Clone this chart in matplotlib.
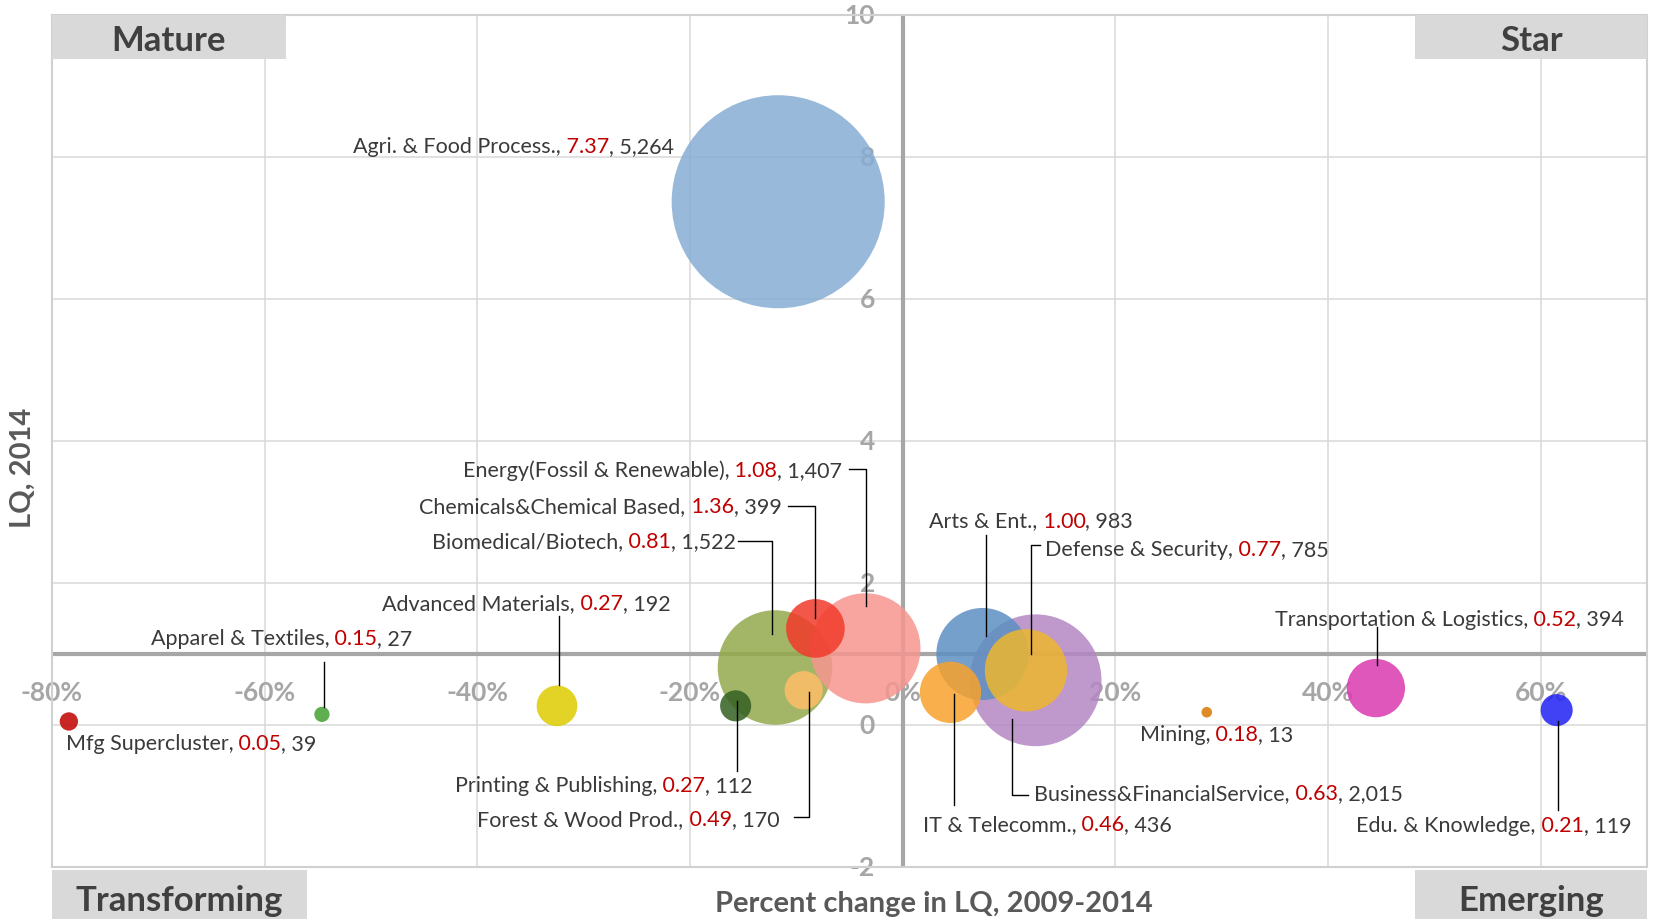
import matplotlib.pyplot as plt
from matplotlib.patches import Rectangle
from matplotlib.offsetbox import TextArea, HPacker, AnnotationBbox

plt.rcParams['font.family'] = ['Lato', 'DejaVu Sans']

# cluster data: % change in LQ 2009-2014, LQ 2014, employment
clusters = ['Agri. & Food Process.', 'Mfg Supercluster', 'Apparel & Textiles',
            'Advanced Materials', 'Biomedical/Biotech', 'Energy(Fossil & Renewable)',
            'Chemicals&Chemical Based', 'Forest & Wood Prod.', 'Printing & Publishing',
            'Business&FinancialService', 'Arts & Ent.', 'Defense & Security',
            'IT & Telecomm.', 'Mining', 'Transportation & Logistics', 'Edu. & Knowledge']
pct_change = [-11.7, -78.4, -54.6, -32.5, -12.0, -3.5, -8.2, -9.3, -15.7,
              12.5, 7.5, 11.6, 4.5, 28.6, 44.5, 61.5]
lq_2014 = [7.37, 0.05, 0.15, 0.27, 0.81, 1.08, 1.36, 0.49, 0.27,
           0.63, 1.00, 0.77, 0.46, 0.18, 0.52, 0.21]
employment = [5264, 39, 27, 192, 1522, 1407, 399, 170, 112,
              2015, 983, 785, 436, 13, 394, 119]
colors = ['#86ADD4', '#C00000', '#43A030', '#DDCC00', '#93AA4C', '#F79690',
          '#F23A2A', '#FFBE68', '#335F22', '#B487C4', '#5D90C2', '#EDB62E',
          '#F8A22C', '#D97700', '#DA3AB0', '#2020F5']

x_ticks = [-80, -60, -40, -20, 0, 20, 40, 60]
y_ticks = [-2, 0, 2, 4, 6, 8, 10]
quadrants = ['Mature', 'Star', 'Transforming', 'Emerging']

# label placement: text x, text y, alignment, leader line points
label_pos = [
    (-21.5, 8.15, 'right', None),
    (-78.7, -0.25, 'left', None),
    (-58.4, 1.23, 'center', [(-54.4, 0.89), (-54.4, 0.25)]),
    (-35.4, 1.72, 'center', [(-32.3, 1.53), (-32.3, 0.56)]),
    (-15.7, 2.59, 'right', [(-15.5, 2.59), (-12.3, 2.59), (-12.3, 1.28)]),
    (-5.7, 3.60, 'right', [(-5.0, 3.60), (-3.4, 3.60), (-3.4, 1.68)]),
    (-11.4, 3.09, 'right', [(-10.75, 3.09), (-8.2, 3.09), (-8.2, 1.51)]),
    (-11.6, -1.33, 'right', [(-10.25, -1.30), (-8.85, -1.30), (-8.85, 0.46)]),
    (-28.1, -0.85, 'center', [(-15.6, 0.34), (-15.6, -0.65)]),
    (12.4, -0.96, 'left', [(10.25, 0.08), (10.25, -0.98), (11.8, -0.98)]),
    (12.1, 2.88, 'center', [(7.8, 2.68), (7.8, 1.25)]),
    (13.4, 2.48, 'left', [(12.9, 2.54), (12.1, 2.54), (12.1, 1.0)]),
    (13.6, -1.40, 'center', [(4.8, 0.43), (4.8, -1.12)]),
    (29.5, -0.13, 'center', None),
    (51.4, 1.50, 'center', [(44.6, 1.38), (44.6, 0.84)]),
    (55.6, -1.41, 'center', [(61.6, 0.06), (61.6, -1.2)]),
]

fig = plt.figure(figsize=(16.56, 9.2), dpi=100)
ax = fig.add_axes([0.0313, 0.0565, 0.9633, 0.9261])
ax.set_xlim(-80, 70)
ax.set_ylim(-2, 10)

# grid
for xt in x_ticks:
    ax.axvline(xt, color='#D9D9D9', lw=1.1, zorder=0)
for yt in y_ticks:
    ax.axhline(yt, color='#D9D9D9', lw=1.1, zorder=0)
ax.axvline(0, color='#A6A6A6', lw=3, zorder=1)
ax.axhline(1, color='#A6A6A6', lw=3, zorder=1)
for s in ax.spines.values():
    s.set_color('#D0D0D0')
    s.set_linewidth(1.5)
ax.set_xticks([])
ax.set_yticks([])

# tick labels sitting on the axes crossing
for xt in x_ticks:
    ax.text(xt, 0.47, f'{xt}%', ha='center', va='center', fontsize=19,
            fontweight='bold', color='#A6A6A6', zorder=1.5)
for yt in y_ticks:
    ax.text(-2.6, yt, f'{yt}', ha='right', va='center', fontsize=19,
            fontweight='bold', color='#A6A6A6', zorder=1.5, clip_on=False)

# bubbles
smax = 153.4 ** 2
for i in range(len(clusters)):
    ax.scatter(pct_change[i], lq_2014[i], s=employment[i] / max(employment) * smax,
               color=colors[i], alpha=0.85, edgecolors='none', zorder=3 + i * 0.01)

# labels
fs = 15.5
for i, (tx, ty, ha, path) in enumerate(label_pos):
    parts = [TextArea(clusters[i] + ',', textprops=dict(color='#3A3A3A', fontsize=fs)),
             TextArea(f' {lq_2014[i]:.2f}', textprops=dict(color='#C00000', fontsize=fs)),
             TextArea(f', {employment[i]:,}', textprops=dict(color='#3A3A3A', fontsize=fs))]
    box = HPacker(children=parts, pad=0, sep=0, align='baseline')
    al = {'left': 0, 'center': 0.5, 'right': 1}[ha]
    ab = AnnotationBbox(box, (tx, ty), xycoords='data', box_alignment=(al, 0.5),
                        frameon=False, pad=0, zorder=5)
    ax.add_artist(ab)
    if path:
        ax.plot([p[0] for p in path], [p[1] for p in path], color='black', lw=1, zorder=5)

# quadrant boxes
quad_boxes = [(-80, 9.38, 22.0, 0.62), (48.2, 9.38, 21.8, 0.62),
              (-80, -2.8, 24.0, 0.76), (48.2, -2.8, 21.8, 0.76)]
quad_text_y = [9.65, 9.65, -2.46, -2.46]
for q, (bx, by, bw, bh), qy in zip(quadrants, quad_boxes, quad_text_y):
    ax.add_patch(Rectangle((bx, by), bw, bh, facecolor='#D9D9D9', edgecolor='none',
                           clip_on=False, zorder=6))
    ax.text(bx + bw / 2, qy, q, ha='center', va='center', fontsize=25,
            fontweight='bold', color='#404040', clip_on=False, zorder=7)

fig.text(0.5638, 0.017, 'Percent change in LQ, 2009-2014', ha='center', va='center',
         fontsize=21, fontweight='bold', color='#595959')
fig.text(0.014, 0.4914, 'LQ, 2014', ha='center', va='center', rotation=90,
         fontsize=21, fontweight='bold', color='#595959')

fig.savefig('out.png', dpi=100)
